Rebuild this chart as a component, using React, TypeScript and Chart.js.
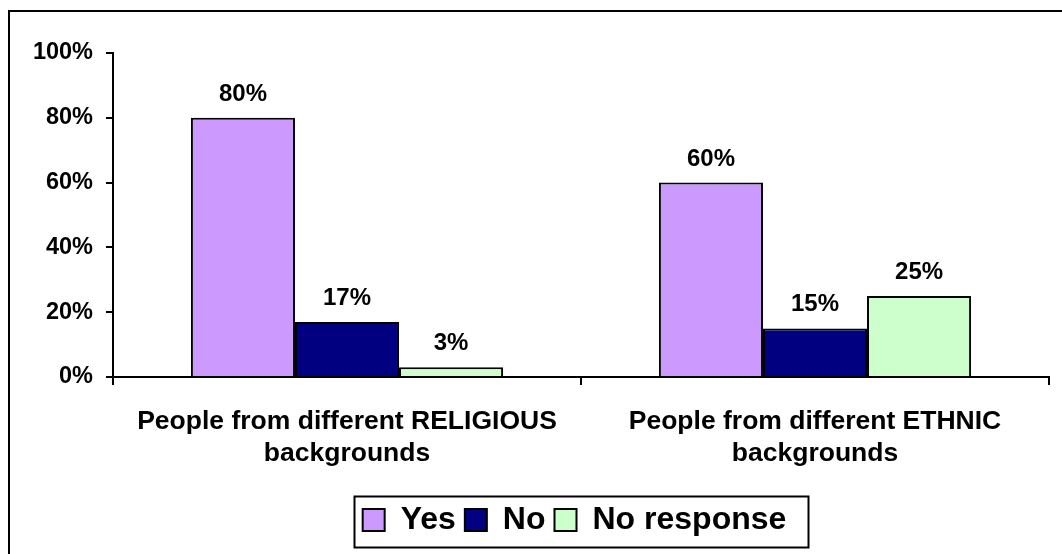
import React, { useEffect, useRef } from "react";
import { Chart, registerables } from "chart.js";

Chart.register(...registerables);

const categories: string[][] = [
  ["People from different RELIGIOUS", "backgrounds"],
  ["People from different ETHNIC", "backgrounds"],
];
const seriesNames = ["Yes", "No", "No response"];
const yesValues = [80, 60];
const noValues = [17, 15];
const noResponseValues = [3, 25];
const seriesColors = ["#CC99FF", "#000080", "#CCFFCC"];
const yTicks = [0, 20, 40, 60, 80, 100];

const FONT = "Arial, 'Liberation Sans', sans-serif";

const decorPlugin = {
  id: "decor",
  afterLayout(chart: any) {
    const lg = chart.legend;
    if (lg) {
      lg.left += 50;
      lg.right += 50;
    }
  },
  afterDraw(chart: any) {
    const ctx = chart.ctx;
    ctx.save();
    // outer frame (left and top visible)
    ctx.strokeStyle = "#000";
    ctx.lineWidth = 2;
    ctx.beginPath();
    ctx.moveTo(9, 560);
    ctx.lineTo(9, 11);
    ctx.lineTo(1070, 11);
    ctx.stroke();
    // legend frame
    const lg = chart.legend;
    if (lg && lg.legendHitBoxes && lg.legendHitBoxes.length) {
      let l = Infinity, r = -Infinity;
      lg.legendHitBoxes.forEach((h: any) => {
        l = Math.min(l, h.left);
        r = Math.max(r, h.left + h.width);
      });
      ctx.lineWidth = 2;
      ctx.strokeRect(Math.round(l - 9) + 0.5, 496.5, Math.round(r - l + 30), 51);
    }
    ctx.restore();
  },
  afterDatasetsDraw(chart: any) {
    const ctx = chart.ctx;
    ctx.save();
    ctx.fillStyle = "#000";
    ctx.font = `bold 24px ${FONT}`;
    ctx.textAlign = "center";
    ctx.textBaseline = "alphabetic";
    chart.data.datasets.forEach((ds: any, di: number) => {
      const meta = chart.getDatasetMeta(di);
      meta.data.forEach((bar: any, i: number) => {
        ctx.fillText(ds.data[i] + "%", bar.x, bar.y - 17);
      });
    });
    ctx.restore();
  },
};

export default function App() {
  const ref = useRef<HTMLCanvasElement | null>(null);
  useEffect(() => {
    if (!ref.current) return;
    const mk = (label: string, data: number[], color: string) => ({
      label,
      data,
      backgroundColor: color,
      borderColor: "#000",
      borderWidth: 2,
      categoryPercentage: 0.667,
      barPercentage: 1,
    });
    const chart = new Chart(ref.current, {
      type: "bar",
      data: {
        labels: categories as any,
        datasets: [
          mk(seriesNames[0], yesValues, seriesColors[0]),
          mk(seriesNames[1], noValues, seriesColors[1]),
          mk(seriesNames[2], noResponseValues, seriesColors[2]),
        ],
      },
      options: {
        responsive: false,
        animation: false,
        devicePixelRatio: 1,
        layout: { padding: { top: 53, left: 0, right: 13, bottom: 8 } },
        plugins: {
          tooltip: { enabled: false },
          title: { display: false },
          legend: {
            position: "bottom",
            labels: {
              color: "#000",
              font: { family: FONT, size: 32, weight: "bold" },
              boxWidth: 22,
              boxHeight: 22,
              padding: 9,
            },
          },
        },
        scales: {
          x: {
            offset: true,
            afterFit: (s: any) => {
              s.height = 118;
            },
            grid: {
              offset: true,
              drawOnChartArea: false,
              drawTicks: true,
              tickLength: 8,
              color: "#000",
              lineWidth: 2,
            },
            border: { color: "#000", width: 2 },
            ticks: {
              color: "#000",
              padding: 21,
              maxRotation: 0,
              font: { family: FONT, size: 26.5, weight: "bold", lineHeight: 1.21 },
            },
          },
          y: {
            min: 0,
            max: 100,
            afterFit: (s: any) => {
              s.width = 113;
            },
            afterBuildTicks: (s: any) => {
              s.ticks = yTicks.map((v) => ({ value: v }));
            },
            grid: {
              drawOnChartArea: false,
              drawTicks: true,
              tickLength: 7,
              color: "#000",
              lineWidth: 2,
            },
            border: { color: "#000", width: 2 },
            ticks: {
              color: "#000",
              padding: 13,
              font: { family: FONT, size: 23.5, weight: "bold" },
              callback: (v: any) => v + "%",
            },
          },
        },
      },
      plugins: [decorPlugin],
    });
    return () => chart.destroy();
  }, []);
  return (
    <canvas
      ref={ref}
      width={1062}
      height={554}
      style={{ position: "fixed", left: 0, top: 0, width: 1062, height: 554 }}
    />
  );
}
